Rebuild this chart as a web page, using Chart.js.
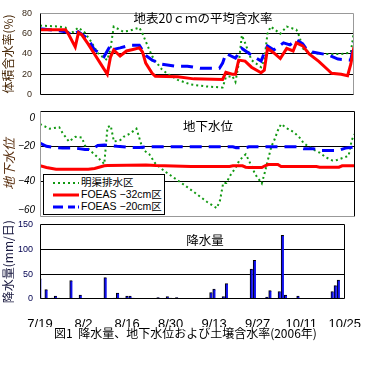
<!DOCTYPE html>
<html lang="ja">
<head>
<meta charset="utf-8">
<script src="https://cdn.jsdelivr.net/npm/chart.js@4.4.1/dist/chart.umd.min.js"></script>
<style>
    html, body { margin: 0; padding: 0; background: #fff; }
    body {
        width: 371px; height: 383px; position: relative; overflow: hidden;
        font-family: 'Liberation Sans', 'Noto Sans CJK JP', sans-serif;
    }
    canvas { position: absolute; left: 0; }
    #swcChart { top: 0; }
    #gwChart { top: 92px; }
    #rainChart { top: 212px; }
    .ptitle {
        position: absolute; transform: translate(-50%, -50%);
        font-family: 'Noto Sans CJK JP', sans-serif; font-size: 12.5px;
        white-space: nowrap; color: #000; line-height: 1;
    }
    #legend {
        position: absolute; left: 43px; top: 174px; width: 120px; height: 39px;
        border: 1px solid #000; background: #fff;
        font-size: 10.5px; line-height: 12px;
    }
    #legend .row { position: absolute; left: 9px; height: 12px; white-space: nowrap; }
    #legend svg { position: absolute; left: 0; top: 3px; }
    #legend span { position: absolute; left: 28px; top: -1px; }
    #caption {
        position: absolute; left: 0; top: 325px; width: 371px; text-align: center;
        font-family: 'Noto Sans CJK JP', sans-serif; font-size: 12px; line-height: 16px;
    }
</style>
</head>
<body>
<canvas id="swcChart" width="371" height="108"></canvas>
<canvas id="gwChart" width="371" height="144"></canvas>
<canvas id="rainChart" width="371" height="118"></canvas>

<div class="ptitle" style="left:203px; top:18px;">地表20ｃｍの平均含水率</div>
<div class="ptitle" style="left:208px; top:126px;">地下水位</div>
<div class="ptitle" style="left:205px; top:240px;">降水量</div>

<div id="legend">
    <div class="row" style="top:2px;">
        <svg width="26" height="6"><line x1="0" y1="3" x2="26" y2="3" stroke="#119911" stroke-width="2" stroke-dasharray="2,3"/></svg>
        <span>明渠排水区</span>
    </div>
    <div class="row" style="top:14px;">
        <svg width="26" height="6"><line x1="0" y1="3" x2="26" y2="3" stroke="#ff0000" stroke-width="3"/></svg>
        <span>FOEAS −32cm区</span>
    </div>
    <div class="row" style="top:26px;">
        <svg width="26" height="6"><line x1="0" y1="3" x2="26" y2="3" stroke="#0000ff" stroke-width="3" stroke-dasharray="10,5,7,3,2"/></svg>
        <span>FOEAS −20cm区</span>
    </div>
</div>

<div id="caption">図1&nbsp;&nbsp;降水量、地下水位および土壌含水率(2006年)</div>

<script>
// x axis: days since 7/19
const xTickDays = [0, 14, 28, 42, 56, 70, 84, 98];
const xTickLabels = ['7/19', '8/2', '8/16', '8/30', '9/13', '9/27', '10/11', '10/25'];

// Soil water content at 20cm (%)
const swcRedDays = [0, 8, 9, 11, 12, 13, 15, 17, 19, 21, 22, 23, 25, 27, 29, 31, 32, 33, 35, 36, 43, 48, 57, 58, 60, 61, 62, 64, 66, 69, 70, 71, 73, 75, 77, 79, 80, 82, 84, 87, 90, 91, 94, 96, 97, 98];
const swcRed = [64, 64, 59, 47, 61, 59, 50, 40, 30, 20, 37, 44, 38, 43, 44.5, 46, 42, 31, 21, 18, 17.5, 15.5, 15, 22, 20, 20, 34, 33, 27, 21.5, 24, 45.5, 41, 35.5, 45.5, 43, 51, 48, 40, 32.7, 24, 21, 20, 18.6, 30, 47];
const swcBlueDays = [0, 8, 10, 12, 15, 17, 19, 20, 22, 23, 25, 28, 31, 33, 35, 38, 42, 46, 50, 56, 57, 58, 61, 63, 66, 69, 70, 71, 73, 76, 78, 80, 82, 83, 85, 90, 93, 97, 98];
const swcBlue = [65, 62, 58.5, 62, 55, 44, 40.5, 37.5, 48.5, 44.5, 46, 48.5, 48.5, 38.5, 34, 30, 28, 28, 26, 26, 31, 40.5, 36, 45.5, 39, 33, 41, 48, 44, 51, 49, 54, 50, 45.5, 42, 39, 35, 34, 51];
const swcGreenDays = [0, 6, 8, 9, 10, 12, 14, 16, 18, 20, 21, 22, 23, 26, 28, 31, 32, 34, 35, 36, 38, 40, 43, 47, 52, 57, 58, 60, 61, 62, 63, 64, 66, 69, 70, 71, 72, 75, 77, 80, 81, 82, 84, 88, 94, 97, 98];
const swcGreen = [68, 67, 66, 61, 61, 66, 61, 52, 41, 36, 34, 45, 67, 62, 63, 66, 60, 45, 38, 33, 25, 20, 14.5, 10, 8, 7, 17, 18.5, 12.5, 30, 58.5, 51, 34, 27, 34, 60, 67, 60, 67, 64, 57, 45.5, 41.4, 40, 40, 41.4, 63];

// Groundwater level (cm)
const gwRedDays = [0, 2, 5, 15, 17, 20, 21, 33, 36, 47, 59, 60, 63, 64, 65, 69, 70, 71, 74, 75, 86, 87, 93, 94, 98];
const gwRed = [-31, -32, -33, -33, -32.5, -31, -30.8, -30.5, -30.8, -31.4, -31.4, -31, -31, -31.8, -32, -32, -31, -30.3, -30.3, -31.4, -31.4, -31.8, -31.8, -31, -31];
const gwBlueDays = [0, 2, 4, 7, 11, 14, 16, 18, 20, 24, 28, 31, 33, 60, 61, 64, 65, 80, 82, 85, 87, 93, 95, 98];
const gwBlue = [-18.2, -20, -20.5, -21, -21, -21.8, -21.8, -19.5, -19.2, -20, -20.6, -20.6, -20.3, -20.3, -20.8, -20.8, -20.3, -20.3, -21.3, -21.3, -22.3, -22.3, -21, -20.3];
const gwGreenDays = [0, 3, 6, 7, 9, 11, 13, 14, 16, 18, 20, 21, 22, 23, 25, 26, 28, 30, 32, 34, 36, 39, 44, 48, 52, 55, 56, 57, 58, 59, 61, 62, 64, 65, 67, 69, 70, 71, 72, 73, 74, 75, 77, 79, 81, 82, 85, 87, 89, 91, 92, 96, 97, 98];
const gwGreen = [-7.4, -10, -9.2, -12.4, -17.3, -14.6, -15, -19.6, -23, -26.3, -30, -9.2, -8.3, -17.3, -16.4, -14.6, -12.8, -10, -21.8, -24.5, -30, -34.4, -40.7, -46, -51.5, -55, -50.6, -40.7, -40.7, -37, -31.7, -28, -24.5, -28, -36, -41, -34.4, -27, -20, -16, -11, -7.4, -10, -12, -15.5, -18.2, -21.8, -23.6, -26.3, -28, -28, -25.4, -16.4, -12.8];

// Daily precipitation (mm/day)
const rainDays = [0, 2, 4, 5, 6, 10, 13, 21, 24, 25, 26, 27, 28, 29, 30, 38, 41, 42, 44, 54, 55, 56, 59, 60, 68, 69, 73, 74, 77, 78, 79, 83, 94, 95, 96, 97];
const rainMm = [41, 19, 2, 6, 2, 37, 8, 43, 2, 12, 2, 2, 6, 6, 2, 3, 5, 2, 3, 2, 13, 20, 5, 31, 60, 78, 4, 17, 15, 128, 8, 6, 15, 27, 38, 2];

const pts = (days, vals) => days.map((d, i) => ({ x: d, y: vals[i] }));

// Plot frame with its own colour per side
const framePlugin = {
    id: 'frame',
    afterDatasetsDraw(chart, args, opts) {
        const { ctx, chartArea: a } = chart;
        const l = Math.round(a.left) + 0.5, r = Math.round(a.right) - 0.5;
        const t = Math.round(a.top) + 0.5, b = Math.round(a.bottom) - 0.5;
        const sides = [
            ['top', l, t, r, t],
            ['right', r, t, r, b],
            ['bottom', l, b, r, b],
            ['left', l, t, l, b]
        ];
        ctx.save();
        ctx.lineWidth = 1;
        sides.forEach(([side, x1, y1, x2, y2]) => {
            ctx.strokeStyle = opts[side];
            ctx.beginPath();
            ctx.moveTo(x1, y1);
            ctx.lineTo(x2, y2);
            ctx.stroke();
        });
        ctx.restore();
    }
};

function xScale(show) {
    return {
        type: 'linear',
        min: 0,
        max: 98,
        offset: false,
        display: show,
        afterBuildTicks: s => { s.ticks = xTickDays.map(v => ({ value: v })); },
        afterFit: s => { s.height = show ? 28 : 0; },
        grid: { display: false, offset: false },
        border: { display: false },
        ticks: {
            padding: 10,
            color: '#000',
            autoSkip: false,
            maxRotation: 0,
            font: { family: 'Liberation Sans', size: 13 },
            callback: v => xTickLabels[xTickDays.indexOf(v)] || ''
        }
    };
}

function innerGrid(min, max) {
    return c => (c.tick.value === min || c.tick.value === max) ? 'rgba(0,0,0,0)' : '#000';
}

const baseOptions = {
    responsive: false,
    animation: false,
    plugins: { legend: { display: false }, tooltip: { enabled: false } }
};

// Top: soil water content
new Chart(document.getElementById('swcChart'), {
    type: 'line',
    data: {
        datasets: [
            { data: pts(swcRedDays, swcRed), borderColor: '#ff0000', borderWidth: 3, pointRadius: 0, tension: 0 },
            { data: pts(swcBlueDays, swcBlue), borderColor: '#0000ff', borderWidth: 3, borderDash: [12, 7], pointRadius: 0, tension: 0 },
            { data: pts(swcGreenDays, swcGreen), borderColor: '#119911', borderWidth: 2, borderDash: [2, 3], pointRadius: 0, tension: 0 }
        ]
    },
    options: {
        ...baseOptions,
        layout: { padding: { left: 0, right: 17, top: 10, bottom: 5 } },
        plugins: { ...baseOptions.plugins, frame: { top: '#999', right: '#999', bottom: '#000', left: '#000' } },
        scales: {
            x: xScale(false),
            y: {
                min: 0, max: 80,
                afterFit: s => { s.width = 40; },
                border: { display: false },
                grid: { color: innerGrid(0, 80), drawTicks: false },
                ticks: { stepSize: 20, padding: 8, color: '#3a2a1a', font: { family: 'Liberation Sans', size: 9 } },
                title: {
                    display: true, text: '体積含水率(%)', color: '#4a2a0a',
                    padding: { top: 1, bottom: 0 },
                    font: { family: 'Noto Sans CJK JP', size: 12 }
                }
            }
        }
    },
    plugins: [framePlugin]
});

// Middle: groundwater level
new Chart(document.getElementById('gwChart'), {
    type: 'line',
    data: {
        datasets: [
            { data: pts(gwRedDays, gwRed), borderColor: '#ff0000', borderWidth: 3, pointRadius: 0, tension: 0 },
            { data: pts(gwBlueDays, gwBlue), borderColor: '#0000ff', borderWidth: 3, borderDash: [12, 7], pointRadius: 0, tension: 0 },
            { data: pts(gwGreenDays, gwGreen), borderColor: '#119911', borderWidth: 2, borderDash: [2, 3], pointRadius: 0, tension: 0 }
        ]
    },
    options: {
        ...baseOptions,
        layout: { padding: { left: 0, right: 16, top: 16, bottom: 17 } },
        plugins: { ...baseOptions.plugins, frame: { top: '#000', right: '#000', bottom: '#999', left: '#999' } },
        scales: {
            x: xScale(false),
            y: {
                min: -60, max: 0,
                afterFit: s => { s.width = 40; },
                border: { display: false },
                grid: { color: innerGrid(-60, 0), drawTicks: false },
                ticks: {
                    stepSize: 20, padding: 5, color: '#000',
                    font: { family: 'Liberation Sans', size: 10, style: 'italic', lineHeight: '14px' },
                    callback: function(value) {
                        const s = String(value).replace('-', '−');
                        if (value === 0) return ['', s];
                        if (value === -60) return [s, ''];
                        return s;
                    }
                },
                title: {
                    display: true, text: '地下水位', color: '#5a3010',
                    padding: { top: 1, bottom: 0 },
                    font: { family: 'Noto Sans CJK JP', size: 13, style: 'italic' }
                }
            }
        }
    },
    plugins: [framePlugin]
});

// Bottom: precipitation
new Chart(document.getElementById('rainChart'), {
    type: 'bar',
    data: {
        datasets: [{
            data: pts(rainDays, rainMm),
            backgroundColor: '#1010ee',
            borderColor: '#000',
            borderWidth: { left: 1, top: 1, right: 0, bottom: 0 },
            borderSkipped: false,
            barThickness: 2.8
        }]
    },
    options: {
        ...baseOptions,
        layout: { padding: { left: 0, right: 17, top: 11, bottom: 3 } },
        plugins: { ...baseOptions.plugins, frame: { top: '#000', right: '#000', bottom: '#000', left: '#000' } },
        scales: {
            x: xScale(true),
            y: {
                min: 0, max: 150,
                afterFit: s => { s.width = 40; },
                border: { display: false },
                grid: { color: innerGrid(0, 150), drawTicks: false },
                ticks: { stepSize: 50, padding: 7, color: '#000050', font: { family: 'Liberation Sans', size: 9 } },
                title: {
                    display: true, text: '降水量(mm/日)', color: '#1a1a40',
                    padding: { top: 1, bottom: 0 },
                    font: { family: 'Noto Sans CJK JP', size: 12 }
                }
            }
        }
    },
    plugins: [framePlugin]
});
</script>
</body>
</html>
